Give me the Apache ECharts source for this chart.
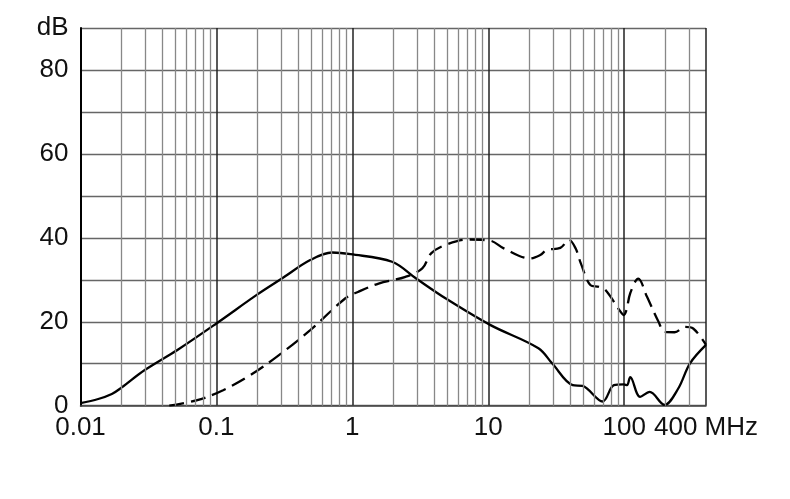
<!DOCTYPE html>
<html>
<head>
<meta charset="utf-8">
<script src="https://cdn.jsdelivr.net/npm/echarts@6/dist/echarts.min.js"></script>
<style>html,body{margin:0;padding:0;background:#fff}#c{width:790px;height:499px}</style>
</head>
<body>
<div id="c"></div>
<script>
// Frequency (MHz) and level (dB) of the solid curve
var solidFreq = [0.01, 0.0135, 0.017, 0.02, 0.0297, 0.0523, 0.1, 0.198, 0.303, 0.49, 0.71, 0.97, 1.96, 2.95, 4.84, 10.4, 23.4, 29.5, 41.8, 49.4, 69.4, 84, 99.3, 105, 110.8, 131, 154, 198, 250, 305, 400];
var solidDb   = [0.6, 1.6, 2.8, 4.3, 8.5, 13.4, 19.6, 26.4, 30.3, 34.7, 36.5, 36.1, 34.3, 30.3, 25.6, 19.2, 13.7, 10.1, 4.9, 4.7, 1.0, 4.9, 5.1, 4.9, 6.8, 2.1, 3.3, 0.2, 4.1, 10.1, 14.5];
// Frequency (MHz) and level (dB) of the dashed curve
var dashFreq = [0.045, 0.0735, 0.112, 0.178, 0.279, 0.49, 0.89, 1.1, 1.56, 2.46, 3.27, 3.8, 4.84, 7.2, 10.4, 13.0, 20.3, 24.1, 27, 33.9, 39.3, 43.9, 48, 56.6, 65.3, 73.1, 94, 99.3, 104, 110.8, 127, 147, 179, 198, 235, 280, 322, 400];
var dashDb   = [0.0, 1.4, 3.7, 7.3, 11.7, 18.0, 25.6, 27.1, 29.1, 30.7, 32.7, 36.3, 38.3, 39.6, 39.3, 37.5, 35.1, 35.9, 37.1, 37.6, 39.5, 37.5, 33.9, 28.7, 28.3, 27.5, 22.4, 21.6, 22.8, 26.8, 30.3, 26.0, 20.0, 17.6, 17.5, 18.8, 18.4, 14.5];
// Axis tick labels
var xTickValues = [0.01, 0.1, 1, 10, 100, 400];
var xTickLabels = ['0.01', '0.1', '1', '10', '100', '400 MHz'];
var yTickValues = [0, 20, 40, 60, 80, 90];
var yTickLabels = ['0', '20', '40', '60', '80', 'dB'];

function pairs(xs, ys) { return xs.map(function (x, i) { return [x, ys[i]]; }); }

// minor vertical grid lines at 2..9 of each decade
var minorLines = [];
[0.01, 0.1, 1, 10, 100].forEach(function (d) {
  for (var m = 2; m <= 9; m++) { var v = +(d * m).toPrecision(3); if (v < 400) minorLines.push(v); }
});

var chart = echarts.init(document.getElementById('c'), null, { renderer: 'canvas' });
var font = 'Liberation Sans, Arial, sans-serif';
chart.setOption({
  animation: false,
  grid: { left: 80.5, right: 84, top: 28, bottom: 93.3, containLabel: false },
  xAxis: {
    type: 'log', logBase: 10, min: 0.01, max: 400,
    axisLine: { show: true, lineStyle: { color: '#444', width: 1.5 } },
    axisTick: { show: false },
    axisLabel: {
      customValues: xTickValues,
      margin: 9, color: '#111', fontSize: 26, fontFamily: font,
      showMaxLabel: true, showMinLabel: true,
      formatter: function (v) {
        for (var i = 0; i < xTickValues.length; i++) if (Math.abs(Math.log10(v) - Math.log10(xTickValues[i])) < 1e-6) return xTickLabels[i];
        return '';
      }
    },
    splitLine: { show: true, lineStyle: { color: '#222', width: 1.5 } }
  },
  yAxis: {
    type: 'value', min: 0, max: 90, interval: 10,
    axisLine: { show: true, lineStyle: { color: '#000', width: 2 } },
    axisTick: { show: false },
    axisLabel: {
      margin: 12, color: '#111', fontSize: 26, fontFamily: font, padding: [4, 0, 0, 0],
      formatter: function (v) { var i = yTickValues.indexOf(v); return i >= 0 ? yTickLabels[i] : ''; }
    },
    splitLine: { show: true, lineStyle: { color: '#666', width: 1.3 } }
  },
  series: [
    {
      type: 'line', data: pairs(solidFreq, solidDb), symbol: 'none', smooth: 0.35,
      lineStyle: { color: '#000', width: 2.3 },
      markLine: {
        silent: true, symbol: ['none', 'none'], label: { show: false },
        lineStyle: { color: '#888', width: 1.3, type: 'solid' },
        data: minorLines.map(function (v) { return { xAxis: v }; })
      },
      z: 3
    },
    {
      type: 'line', data: pairs(dashFreq, dashDb), symbol: 'none', smooth: 0.35,
      lineStyle: { color: '#000', width: 2.3, type: [15, 7] }, z: 3
    }
  ]
});
</script>
</body>
</html>
